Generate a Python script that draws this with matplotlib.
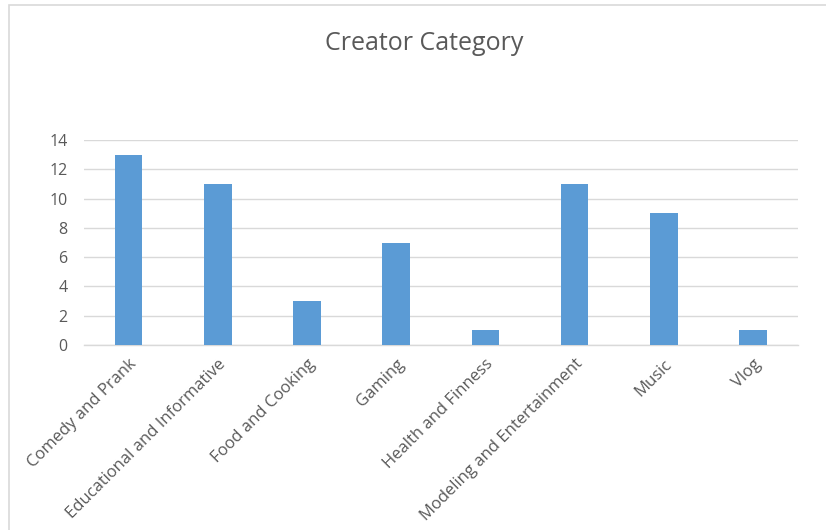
import matplotlib.pyplot as plt
from matplotlib.patches import Rectangle

categories = ["Comedy and Prank", "Educational and Informative", "Food and Cooking",
              "Gaming", "Health and Finness", "Modeling and Entertainment", "Music", "Vlog"]
counts = [13, 11, 3, 7, 1, 11, 9, 1]
yticks = [0, 2, 4, 6, 8, 10, 12, 14]

plt.rcParams['font.family'] = ['Open Sans', 'DejaVu Sans']

fig = plt.figure(figsize=(8.26, 5.30), dpi=100)
ax = fig.add_axes([0.1017, 0.349, 0.864, 0.3868])

x = range(len(categories))
ax.bar(x, counts, width=0.31, color="#5B9BD5", zorder=3)

ax.set_xlim(-0.5, len(categories) - 0.5)
ax.set_ylim(0, 14)
ax.set_yticks(yticks)
ax.set_yticklabels([str(v) for v in yticks], fontsize=11.5, color="#595959")
ax.set_xticks(list(x))
ax.set_xticklabels(categories, rotation=45, ha="right", rotation_mode="anchor",
                   fontsize=12, color="#595959")
ax.tick_params(axis="both", length=0)
ax.tick_params(axis="x", pad=8)
ax.tick_params(axis="y", pad=12)

ax.grid(axis="y", color="#D9D9D9", linewidth=1, zorder=0)
for s in ["top", "right", "left"]:
    ax.spines[s].set_visible(False)
ax.spines["bottom"].set_color("#D9D9D9")
ax.spines["bottom"].set_linewidth(1)

fig.text(0.513, 0.918, "Creator Category", ha="center", va="center",
         fontsize=18, color="#595959")

# chart border (only top and left edges visible in the crop)
fig.patches.append(Rectangle((9 / 826, -0.1), 1.2, 1 - 5 / 530 + 0.1,
                             transform=fig.transFigure, fill=False,
                             edgecolor="#D9D9D9", linewidth=1.2))

fig.savefig("out.png", dpi=100, facecolor="white")
